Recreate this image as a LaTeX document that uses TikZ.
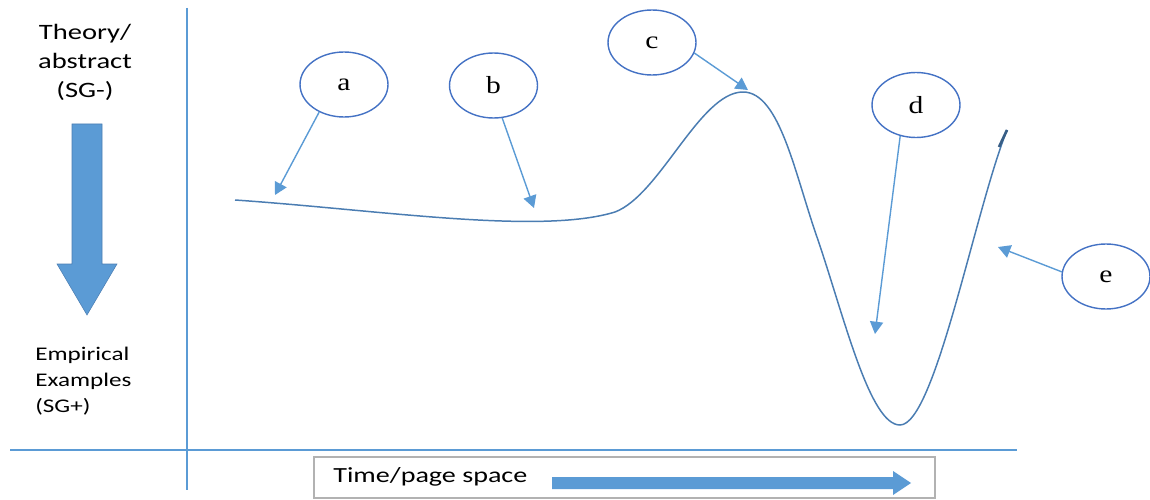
\documentclass[tikz,border=0pt]{standalone}
\usepackage{fontspec}
\usepackage{tikz}
\usetikzlibrary{arrows.meta,shapes.geometric}
\newfontfamily\sidefont{Carlito}[FakeStretch=1.3]
\newfontfamily\letterfont{Liberation Serif}[FakeStretch=1.2]
\definecolor{office}{RGB}{91,155,213}
\definecolor{ring}{RGB}{68,114,196}
\definecolor{trace}{RGB}{75,125,178}
\tikzstyle{bubble}=[ellipse,draw=ring,line width=0.8pt,minimum width=1.76cm,minimum height=1.3cm,inner sep=0pt,font=\letterfont\fontsize{14}{16}\selectfont]
\tikzstyle{pointer}=[->,draw=office,line width=0.8pt,>={Triangle[length=7pt,width=7.5pt]},color=office]
\tikzstyle{axis}=[draw=office,line width=1pt]

\begin{document}
\begin{tikzpicture}[x=0.02cm,y=-0.02cm]
  \useasboundingbox (0,0) rectangle (1150,500);

  % axes
  \draw[axis] (187,8)--(187,490);
  \draw[axis] (10,450)--(1017,450);

  % side labels and the big arrow
  \node[align=center,inner sep=0pt,font=\sidefont\fontsize{12.5}{16.5}\selectfont] (top) at (85,62) {Theory/\\abstract\\(SG-)};
  \node[align=left,anchor=west,inner sep=0pt,font=\sidefont\fontsize{11}{15}\selectfont] (bottom) at (35,381) {Empirical\\Examples\\(SG+)};
  \fill[office,draw=trace,line width=0.3pt] (72,124)--(102,124)--(102,264)--(117,264)--(87,315)--(57,264)--(72,264)--cycle;

  % time box
  \draw[gray!60,line width=0.8pt] (314,457) rectangle (935,498);
  \node[anchor=base west,inner sep=0pt,font=\sidefont\fontsize{12.3}{14}\selectfont] (time) at (333,482) {Time/page space};
  \fill[office] (552,477)--(893,477)--(893,471)--(911,483)--(893,495)--(893,489)--(552,489)--cycle;

  % the curve
  \draw[trace,line width=0.85pt] (235,200) .. controls (380,210) and (540,235) .. (615,212)
    .. controls (660,195) and (700,92) .. (743,92)
    .. controls (780,92) and (795,175) .. (818,240)
    .. controls (845,320) and (870,425) .. (900,425)
    .. controls (935,425) and (975,210) .. (1007,130);
  \draw[trace!75!black,line width=1.5pt] (999,147)--(1007,130);

  % bubbles
  \node[bubble] (a) at (344,84.5) {a};
  \node[bubble] (b) at (493.5,85.5) {b};
  \node[bubble] (c) at (652,42.5) {c};
  \node[bubble] (d) at (916,105) {d};
  \node[bubble] (e) at (1106,276.5) {e};

  \coordinate (ta) at (275,195);
  \coordinate (tb) at (534,208);
  \coordinate (tc) at (748,90);
  \coordinate (td) at (875,334);
  \coordinate (te) at (998,247);

  \draw[pointer] (a.228)--(ta);
  \draw[pointer] (b.285)--(tb);
  \draw[pointer] (c.-14)--(tc);
  \draw[pointer] (d.243)--(td);
  \draw[pointer] (e.174)--(te);

\end{tikzpicture}
\end{document}
